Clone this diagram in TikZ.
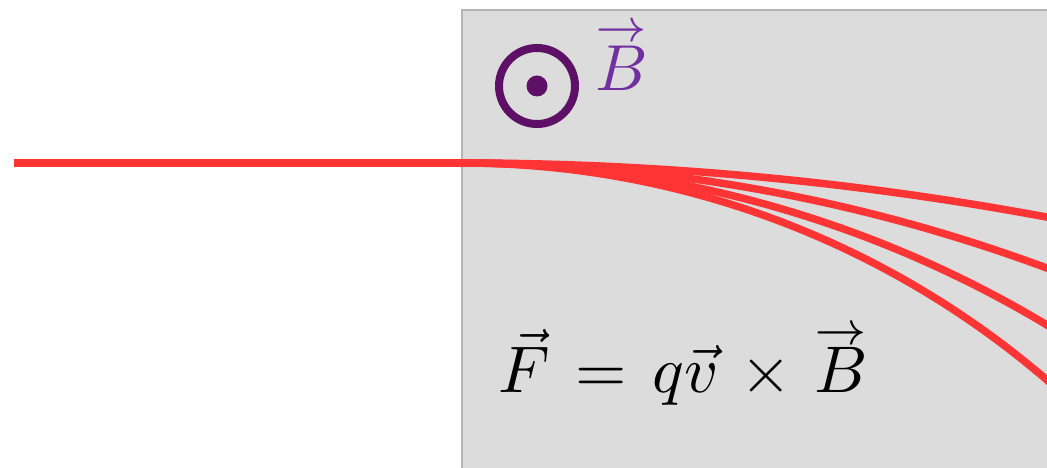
\documentclass[tikz,border=0pt]{standalone}
\usepackage{amsmath}
\definecolor{fieldbg}{HTML}{DCDCDC}
\definecolor{fieldedge}{HTML}{B4B4B4}
\definecolor{beam}{HTML}{FF3535}
\definecolor{dotpurple}{HTML}{5E0F66}
\definecolor{labelpurple}{HTML}{7030A0}
\newcommand{\wvec}[2]{\ooalign{$#1$\cr\hidewidth\raise#2\hbox{$\scriptstyle\rightarrow$}\hidewidth\cr}}
\tikzset{
  beamline/.style={draw=beam, line width=7.5pt},
  fieldregion/.style={fill=fieldbg, draw=fieldedge, line width=2pt},
}
\begin{document}
\begin{tikzpicture}[x=1pt,y=1pt]
\useasboundingbox (0,0) rectangle (1047,468);
\clip (0,0) rectangle (1047,468);
% field region
\path[fieldregion] (462,458) rectangle (1060,-10);
% out-of-page symbol
\node[circle, draw=dotpurple, line width=8pt, minimum size=76pt, inner sep=0pt] (bsym) at (537,382) {};
\fill[dotpurple] (bsym.center) circle[radius=10.5pt];
\node[text=labelpurple, scale=6.5, inner sep=0pt, anchor=base west] (blabel) at (594,377) {\wvec{B}{7.6pt}};
% beam
\coordinate (src) at (14,305);
\coordinate (entry) at (462,305);
\draw[beamline] (src) -- (entry);
\draw[beamline] (entry) arc[start angle=90, end angle=78.8, radius=3196pt];
\draw[beamline] (entry) arc[start angle=90, end angle=68.4, radius=1682pt];
\draw[beamline] (entry) arc[start angle=90, end angle=57.0, radius=1137pt];
\draw[beamline] (entry) arc[start angle=90, end angle=46.3, radius=897pt];
% formula
\node[anchor=base west, scale=6.6, inner sep=0pt] (formula) at (497,75) {$\vec{F}\mkern2mu=\mkern2mu q\vec{v}\mkern2mu\times\mkern2mu\mathord{\wvec{B}{7.4pt}}$};
\end{tikzpicture}
\end{document}
